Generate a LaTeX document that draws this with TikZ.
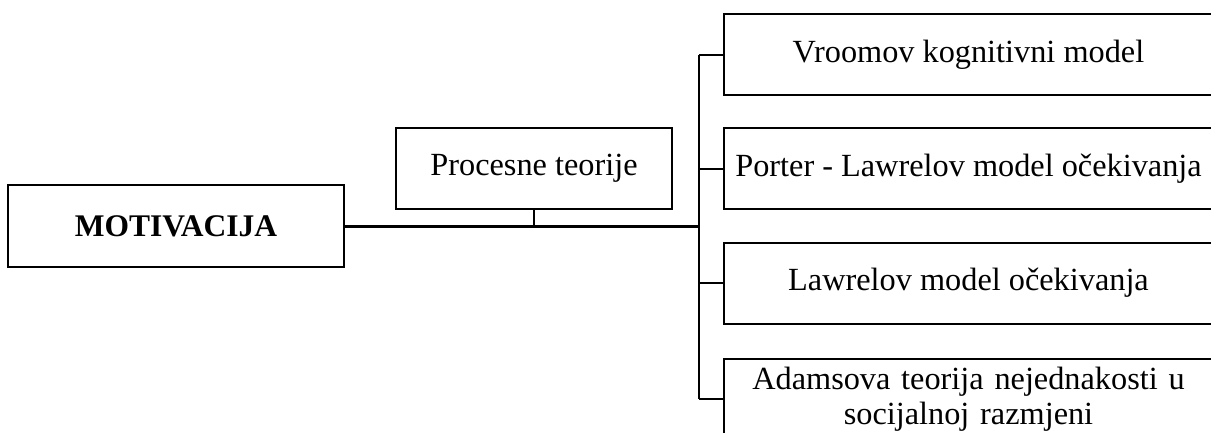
\documentclass[tikz,border=0pt]{standalone}
\usepackage{fontspec}
\setmainfont{Liberation Serif}
\begin{document}
\begin{tikzpicture}[x=1bp,y=-1bp,
  box/.style={draw=black, line width=2bp, inner sep=0pt, align=center, font=\fontsize{32.3bp}{35bp}\selectfont},
  conn/.style={draw=black, line width=2bp},
  mainconn/.style={draw=black, line width=3bp}]
\useasboundingbox (0,0) rectangle (1211,432);
\clip (0,0) rectangle (1211,432);
\node[box, minimum width=336bp, minimum height=82bp, font=\fontsize{31.5bp}{35bp}\selectfont\bfseries] (mot) at (176,226) {MOTIVACIJA};
\node[box, minimum width=276bp, minimum height=81bp] (proc) at (534,168.5) {Procesne teorije};
\node[box, minimum width=489bp, minimum height=81bp] (b1) at (968.5,54.5) {Vroomov kognitivni model};
\node[box, minimum width=489bp, minimum height=81bp] (b2) at (968.5,168.5) {Porter - Lawrelov model očekivanja};
\node[box, minimum width=489bp, minimum height=81bp] (b3) at (968.5,283) {Lawrelov model očekivanja};
\node[box, minimum width=489bp, minimum height=81bp, text width=480bp] (b4) at (968.5,399) {Adamsova teorija nejednakosti u\\ socijalnoj razmjeni};
\coordinate (bus) at (699,226);
\coordinate (stub) at (proc.south |- bus);
\draw[mainconn] (mot.east) -- (bus);
\draw[conn] (proc.south) -- (stub);
\draw[conn] (bus |- b1.west) -- (bus |- b4.west);
\draw[conn] (bus |- b1.west) -- (b1.west);
\draw[conn] (bus |- b2.west) -- (b2.west);
\draw[conn] (bus |- b3.west) -- (b3.west);
\draw[conn] (bus |- b4.west) -- (b4.west);
\end{tikzpicture}
\end{document}
